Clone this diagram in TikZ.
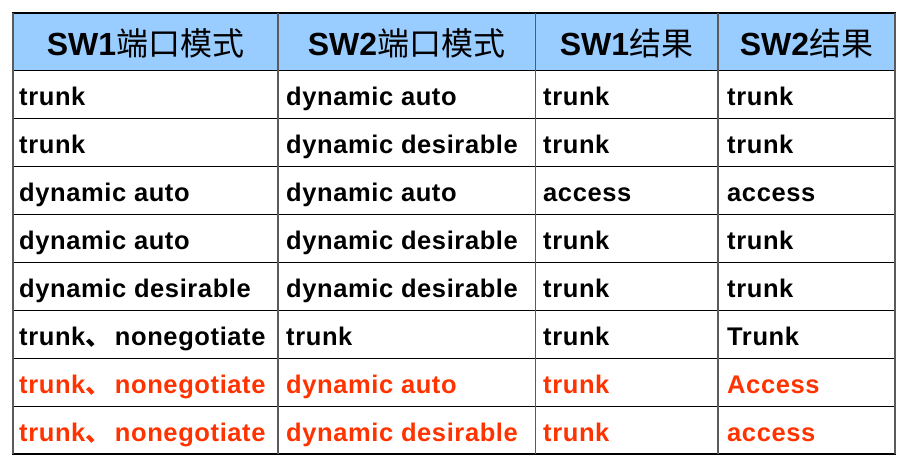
\documentclass[tikz,border=0pt]{standalone}
\usepackage{fontspec}
\setmainfont{Liberation Sans}
\newfontfamily\cjk{Noto Sans CJK SC}
\definecolor{hdrblue}{RGB}{153,204,255}
\definecolor{redtxt}{RGB}{255,51,0}
\definecolor{vgrey}{RGB}{90,90,90}
\newcommand{\dunhao}{{\cjk 、}\hspace{4pt}}
\begin{document}
\begin{tikzpicture}[x=1pt,y=-1pt,
  hdr/.style={anchor=base,inner sep=0pt,font=\fontsize{32}{32}\selectfont\bfseries},
  cell/.style={anchor=base west,inner sep=0pt,font=\fontsize{25.5}{25.5}\selectfont\bfseries\addfontfeature{LetterSpace=2.4}},
  redcell/.style={cell,text=redtxt},
  hline/.style={line width=1.4pt,black},
  vline/.style={line width=1.8pt,vgrey}]
\useasboundingbox (0,0) rectangle (906,466);
\fill[white] (0,0) rectangle (906,466);
\fill[hdrblue] (13,13) rectangle (895,70.5);
% horizontal lines
\foreach \y in {13,70.5,118.5,166.5,214.5,262.5,310.5,358.5,406.5,454}
  \draw[hline] (12,\y) -- (896,\y);
% vertical lines
\foreach \x in {13,278,535.5,718,895}
  \draw[vline] (\x,13) -- (\x,454);
% header
\node[hdr] (h1) at (145.5,55.5) {SW1{\cjk\mdseries 端口模式}};
\node[hdr] (h2) at (406.5,55.5) {SW2{\cjk\mdseries 端口模式}};
\node[hdr] (h3) at (626.5,55.5) {SW1{\cjk\mdseries 结果}};
\node[hdr] (h4) at (806.5,55.5) {SW2{\cjk\mdseries 结果}};
% rows
\def\ca{19}\def\cb{286}\def\cc{543}\def\cd{727}
\node[cell] (r1a) at (\ca,105.5) {trunk};
\node[cell] (r1b) at (\cb,105.5) {dynamic auto};
\node[cell] (r1c) at (\cc,105.5) {trunk};
\node[cell] (r1d) at (\cd,105.5) {trunk};
\node[cell] (r2a) at (\ca,153.5) {trunk};
\node[cell] (r2b) at (\cb,153.5) {dynamic desirable};
\node[cell] (r2c) at (\cc,153.5) {trunk};
\node[cell] (r2d) at (\cd,153.5) {trunk};
\node[cell] (r3a) at (\ca,201.5) {dynamic auto};
\node[cell] (r3b) at (\cb,201.5) {dynamic auto};
\node[cell] (r3c) at (\cc,201.5) {access};
\node[cell] (r3d) at (\cd,201.5) {access};
\node[cell] (r4a) at (\ca,249.5) {dynamic auto};
\node[cell] (r4b) at (\cb,249.5) {dynamic desirable};
\node[cell] (r4c) at (\cc,249.5) {trunk};
\node[cell] (r4d) at (\cd,249.5) {trunk};
\node[cell] (r5a) at (\ca,297.5) {dynamic desirable};
\node[cell] (r5b) at (\cb,297.5) {dynamic desirable};
\node[cell] (r5c) at (\cc,297.5) {trunk};
\node[cell] (r5d) at (\cd,297.5) {trunk};
\node[cell] (r6a) at (\ca,345.5) {trunk\dunhao nonegotiate};
\node[cell] (r6b) at (\cb,345.5) {trunk};
\node[cell] (r6c) at (\cc,345.5) {trunk};
\node[cell] (r6d) at (\cd,345.5) {Trunk};
\node[redcell] (r7a) at (\ca,393.5) {trunk\dunhao nonegotiate};
\node[redcell] (r7b) at (\cb,393.5) {dynamic auto};
\node[redcell] (r7c) at (\cc,393.5) {trunk};
\node[redcell] (r7d) at (\cd,393.5) {Access};
\node[redcell] (r8a) at (\ca,441.5) {trunk\dunhao nonegotiate};
\node[redcell] (r8b) at (\cb,441.5) {dynamic desirable};
\node[redcell] (r8c) at (\cc,441.5) {trunk};
\node[redcell] (r8d) at (\cd,441.5) {access};
\end{tikzpicture}
\end{document}
